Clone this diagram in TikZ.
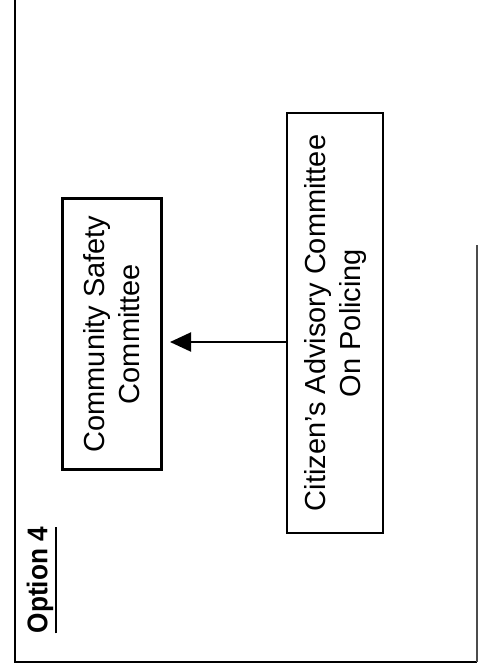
\documentclass[tikz,border=0pt]{standalone}
\usepackage{fontspec}
\setmainfont{Liberation Sans}
\usetikzlibrary{arrows.meta}
\tikzset{
  boxthick/.style={draw=black, line width=3pt, rotate=90, inner sep=0pt, align=center,
    font=\fontsize{29pt}{35pt}\selectfont},
  boxthin/.style={draw=black, line width=2pt, rotate=90, inner sep=0pt, align=center,
    font=\fontsize{29pt}{35pt}\selectfont},
  frameline/.style={line width=2.2pt, black},
  conn/.style={line width=2pt, -{Triangle[length=21pt,width=19pt]}},
}
\begin{document}
\begin{tikzpicture}[x=1pt,y=-1pt]
\useasboundingbox (0,0) rectangle (478,670);
% frame
\coordinate (ftl) at (15,0);
\coordinate (fbl) at (15,662);
\coordinate (fbr) at (477,662);
\coordinate (frt) at (477,245);
\draw[frameline] (ftl) -- (fbl) -- (fbr);
\draw[line width=1.2pt, black!70] (frt) -- (fbr);
% title
\node[rotate=90, inner sep=0pt, font=\fontsize{28.5pt}{32pt}\selectfont\bfseries] (opt) at (40,580) {\scalebox{0.92}[1]{Option 4}};
\draw[line width=2pt] ([xshift=2.5pt]opt.south west) -- ([xshift=2.5pt]opt.south east);
% boxes
\node[boxthick, minimum width=271pt, minimum height=99pt] (csc) at (112,334) {Community Safety\\Committee};
\node[boxthin, minimum width=420pt, minimum height=96pt] (cac) at (335,323) {Citizen's Advisory Committee\\On Policing};
% connector
\coordinate (ay) at (0,342);
\draw[conn, shorten >=7pt] (cac.north |- ay) -- (csc.south |- ay);
\end{tikzpicture}
\end{document}
